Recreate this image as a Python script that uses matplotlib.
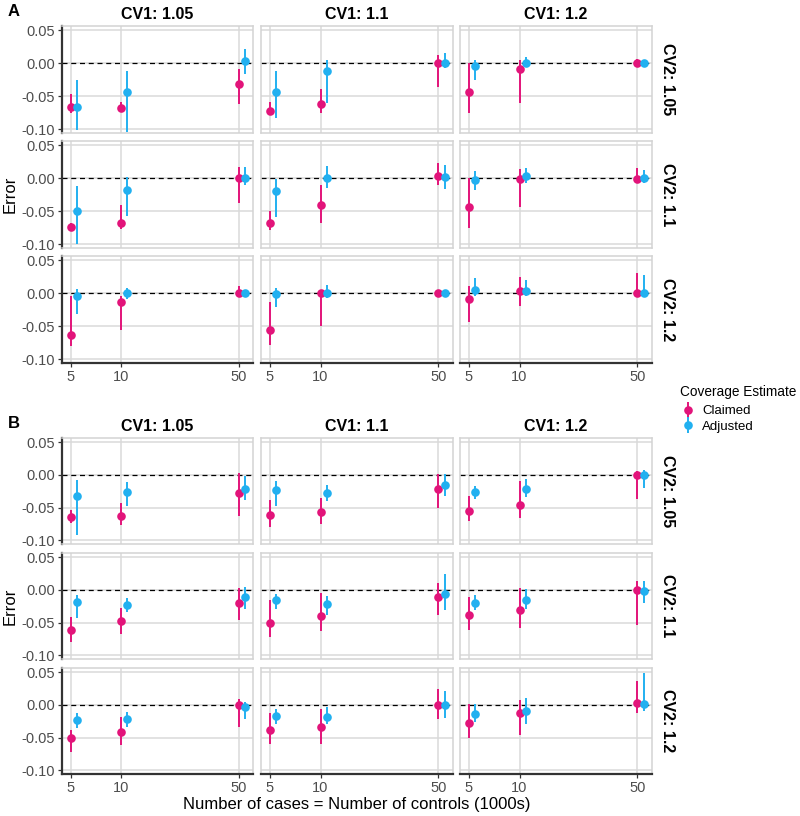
import numpy as np
import matplotlib
matplotlib.use("Agg")
import matplotlib.pyplot as plt
from matplotlib.lines import Line2D
from matplotlib.legend_handler import HandlerTuple

plt.rcParams['font.family'] = ['Liberation Sans', 'DejaVu Sans']

# ---------------- data ----------------
sample_sizes = [5, 10, 50]                 # thousands
cv1_labels = ["CV1: 1.05", "CV1: 1.1", "CV1: 1.2"]
cv2_labels = ["CV2: 1.05", "CV2: 1.1", "CV2: 1.2"]
series_names = ["Claimed", "Adjusted"]
panel_tags = ["A", "B"]

# indexing: [cv2 row][cv1 col][sample size]
A_claim_est = [[[-0.066, -0.067, -0.031], [-0.0725, -0.061, 0.0], [-0.043, -0.008, 0.0]],
               [[-0.0735, -0.067, 0.0], [-0.067, -0.041, 0.003], [-0.043, -0.0005, -0.0005]],
               [[-0.063, -0.0125, 0.0], [-0.0555, 0.0, 0.0], [-0.008, 0.0035, 0.001]]]
A_claim_lo = [[[-0.075, -0.0735, -0.0615], [-0.078, -0.0755, -0.0355], [-0.0755, -0.0595, -0.0055]],
              [[-0.080, -0.077, -0.037], [-0.078, -0.067, -0.010], [-0.0745, -0.043, -0.006]],
              [[-0.080, -0.056, -0.006], [-0.078, -0.049, -0.004], [-0.0435, -0.0195, -0.004]]]
A_claim_hi = [[[-0.047, -0.059, -0.008], [-0.058, -0.0385, 0.012], [0.0, 0.0045, 0.006]],
              [[-0.068, -0.040, 0.017], [-0.050, -0.0095, 0.023], [0.0, 0.0145, 0.0155]],
              [[-0.004, -0.004, 0.011], [-0.0125, 0.005, 0.004], [0.011, 0.024, 0.0315]]]
A_adj_est = [[[-0.066, -0.0435, 0.003], [-0.043, -0.012, 0.0], [-0.0035, 0.0005, 0.0]],
             [[-0.050, -0.017, 0.0005], [-0.0195, 0.0005, 0.0015], [-0.002, 0.003, 0.0]],
             [[-0.0035, 0.0, 0.0], [-0.001, 0.0, 0.0], [0.0045, 0.004, 0.001]]]
A_adj_lo = [[[-0.1015, -0.1035, -0.0155], [-0.0825, -0.0595, -0.007], [-0.0255, -0.0055, -0.0035]],
            [[-0.099, -0.057, -0.0095], [-0.059, -0.0145, -0.0155], [-0.018, -0.007, -0.007]],
            [[-0.0315, -0.008, -0.005], [-0.020, -0.0075, -0.004], [-0.004, -0.004, -0.004]]]
A_adj_hi = [[[-0.0255, -0.0115, 0.022], [-0.012, 0.0055, 0.016], [0.0055, 0.0095, 0.0035]],
            [[-0.011, 0.002, 0.017], [-0.001, 0.018, 0.0195], [0.011, 0.0155, 0.012]],
            [[0.006, 0.0085, 0.005], [0.0075, 0.0125, 0.004], [0.0235, 0.0205, 0.028]]]

B_claim_est = [[[-0.0636, -0.062, -0.0278], [-0.061, -0.057, -0.0217], [-0.0545, -0.0465, 0.0]],
               [[-0.0606, -0.048, -0.0192], [-0.050, -0.040, -0.0106], [-0.0384, -0.031, 0.0]],
               [[-0.0505, -0.041, 0.0], [-0.039, -0.033, 0.0], [-0.0278, -0.012, 0.0035]]]
B_claim_lo = [[[-0.0727, -0.0768, -0.062], [-0.079, -0.075, -0.050], [-0.070, -0.065, -0.036]],
              [[-0.0798, -0.068, -0.0455], [-0.072, -0.062, -0.039], [-0.0606, -0.0586, -0.0535]],
              [[-0.072, -0.0606, -0.034], [-0.060, -0.060, -0.022], [-0.051, -0.046, -0.012]]]
B_claim_hi = [[[-0.0535, -0.0434, 0.003], [-0.039, -0.035, 0.0015], [-0.032, -0.0096, 0.006]],
              [[-0.0414, -0.0278, 0.0025], [-0.0146, -0.0045, 0.0106], [-0.011, 0.0025, 0.013]],
              [[-0.038, -0.018, 0.0086], [-0.013, -0.006, 0.024], [0.002, 0.007, 0.036]]]
B_adj_est = [[[-0.0323, -0.0258, -0.0212], [-0.0237, -0.027, -0.016], [-0.0258, -0.0207, 0.0]],
             [[-0.018, -0.0227, -0.0101], [-0.016, -0.021, -0.006], [-0.0202, -0.0157, -0.0015]],
             [[-0.023, -0.022, -0.0025], [-0.0167, -0.018, 0.0], [-0.0141, -0.0096, 0.002]]]
B_adj_lo = [[[-0.0914, -0.0475, -0.0384], [-0.048, -0.040, -0.032], [-0.036, -0.033, -0.0197]],
            [[-0.043, -0.033, -0.029], [-0.029, -0.039, -0.031], [-0.031, -0.029, -0.020]],
            [[-0.035, -0.033, -0.0207], [-0.029, -0.029, -0.020], [-0.026, -0.029, -0.009]]]
B_adj_hi = [[[-0.008, -0.0106, -0.001], [-0.0086, -0.015, 0.0015], [-0.017, -0.006, 0.008]],
            [[-0.0076, -0.0126, 0.004], [-0.0056, -0.0096, 0.025], [-0.0076, 0.001, 0.0136]],
            [[-0.0116, -0.0106, 0.004], [-0.0066, -0.003, 0.022], [0.002, 0.011, 0.0485]]]

panels = {
    "A": (A_claim_est, A_claim_lo, A_claim_hi, A_adj_est, A_adj_lo, A_adj_hi),
    "B": (B_claim_est, B_claim_lo, B_claim_hi, B_adj_est, B_adj_lo, B_adj_hi),
}

# ---------------- style ----------------
C_CLAIM = '#E2147A'
C_ADJ = '#21B0F0'
GRID = '#DADADA'
BORDER = '#D3D3D3'
DODGE = 0.036   # log10 offset of adjusted series

W, H = 800, 816
fig = plt.figure(figsize=(W / 100, H / 100), dpi=100)

col_x = [(62, 253), (261, 453), (460, 652)]
row_y = {"A": [(26, 133), (141, 248), (256, 363)],
         "B": [(438, 544), (553, 659), (668, 774)]}

xmin, xmax = 10 ** 0.647, 10 ** 1.785
ymin, ymax = -0.1055, 0.0565


def fig_rect(x0, x1, y0, y1):
    return [x0 / W, 1 - y1 / H, (x1 - x0) / W, (y1 - y0) / H]


for tag in panel_tags:
    ce, cl, ch, ae, al, ah = panels[tag]
    for r in range(3):
        for c in range(3):
            (x0, x1), (y0, y1) = col_x[c], row_y[tag][r]
            ax = fig.add_axes(fig_rect(x0, x1, y0, y1))
            ax.set_xscale('log')
            ax.set_xlim(xmin, xmax)
            ax.set_ylim(ymin, ymax)
            ax.set_facecolor('white')
            for v in sample_sizes:
                ax.axvline(v, color=GRID, lw=1.1, zorder=0)
            for v in [-0.10, -0.05, 0.0, 0.05]:
                ax.axhline(v, color=GRID, lw=1.1, zorder=0)
            ax.axhline(0, color='black', lw=0.9, ls=(0, (4, 3)), zorder=1)

            xs = np.array(sample_sizes, dtype=float)
            xa = xs * 10 ** DODGE
            ax.vlines(xs, cl[r][c], ch[r][c], color=C_CLAIM, lw=1.4, zorder=2)
            ax.plot(xs, ce[r][c], 'o', color=C_CLAIM, ms=6.2, mec='none', zorder=3)
            ax.vlines(xa, al[r][c], ah[r][c], color=C_ADJ, lw=1.4, zorder=2)
            ax.plot(xa, ae[r][c], 'o', color=C_ADJ, ms=6.2, mec='none', zorder=3)

            for s in ax.spines.values():
                s.set_color(BORDER)
                s.set_linewidth(1.1)

            ax.set_xticks(sample_sizes)
            ax.set_xticklabels([str(v) for v in sample_sizes])
            ax.xaxis.set_minor_locator(matplotlib.ticker.NullLocator())
            ax.set_yticks([-0.10, -0.05, 0.0, 0.05])
            ax.set_yticklabels(['-0.10', '-0.05', '0.00', '0.05'])
            ax.tick_params(axis='both', labelsize=10.5, colors='#333333',
                           labelcolor='#4D4D4D', length=3, width=0.9, pad=2)
            if c == 0:
                ax.spines['left'].set_color('#333333')
                ax.spines['left'].set_linewidth(1.6)
            else:
                ax.tick_params(axis='y', left=False, labelleft=False)
            if r == 2:
                ax.spines['bottom'].set_color('#333333')
                ax.spines['bottom'].set_linewidth(1.6)
            else:
                ax.tick_params(axis='x', bottom=False, labelbottom=False)
            if r == 0:
                ax.set_title(cv1_labels[c], fontsize=11.5, fontweight='bold', pad=5)
            if c == 2:
                ax.text(1.04, 0.5, cv2_labels[r], transform=ax.transAxes,
                        rotation=-90, ha='left', va='center', fontsize=11.5,
                        fontweight='bold')

    # panel tag and y label
    ytop = row_y[tag][0][0]
    ybot = row_y[tag][2][1]
    fig.text(8 / W, 1 - (ytop - 15) / H, tag, fontsize=12, fontweight='bold',
             ha='left', va='center')
    fig.text(10 / W, 1 - ((ytop + ybot) / 2) / H, "Error", rotation=90,
             fontsize=12, ha='center', va='center')

fig.text(357 / W, 1 - 805 / H, "Number of cases = Number of controls (1000s)",
         fontsize=12, ha='center', va='center')

# legend (pointrange-style keys)
fig.text(680 / W, 1 - 392 / H, "Coverage Estimate", fontsize=9.8,
         ha='left', va='center')
handles = []
for col in (C_CLAIM, C_ADJ):
    handles.append((Line2D([], [], color=col, marker='|', ms=11, mew=1.4, ls='none'),
                    Line2D([], [], color=col, marker='o', ms=6.2, mec='none', ls='none')))
leg = fig.legend(handles, series_names,
                 loc='upper left', bbox_to_anchor=(681 / W, 1 - 405 / H),
                 frameon=False, fontsize=9.5, borderpad=0, borderaxespad=0,
                 handlelength=1.0, handletextpad=0.6,
                 labelspacing=0.25,
                 handler_map={tuple: HandlerTuple(ndivide=1, pad=0)})

fig.savefig("out.png", dpi=100)
